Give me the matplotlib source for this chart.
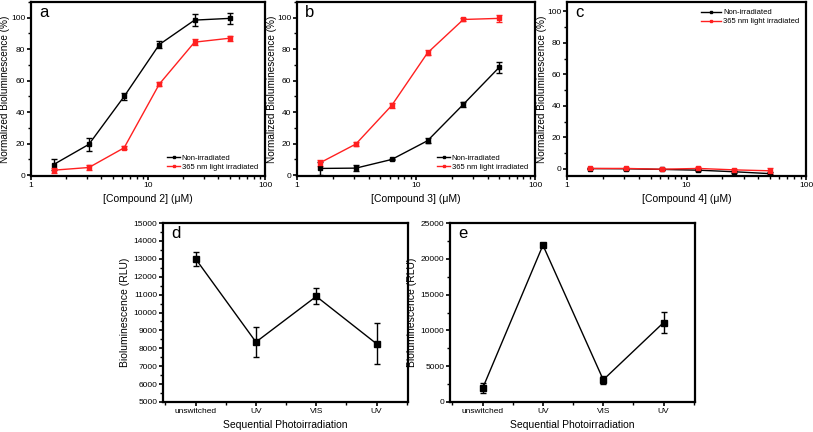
import matplotlib
matplotlib.use("Agg")
import matplotlib.pyplot as plt
from matplotlib.ticker import MultipleLocator, LogLocator, NullFormatter
from matplotlib.lines import Line2D
import numpy as np

plt.rcParams['font.family'] = ['Liberation Sans', 'DejaVu Sans']

conc = [1.5625, 3.125, 6.25, 12.5, 25, 50]

# panel a: compound 2
a_dark = [6.8, 19.6, 50.0, 83.0, 98.5, 99.6]
a_dark_err = [3.5, 4.0, 2.0, 2.0, 4.0, 3.5]
a_uv = [3.2, 4.9, 17.4, 57.9, 84.5, 87.0]
a_uv_err = [1.5, 1.5, 1.0, 1.5, 2.0, 1.5]

# panel b: compound 3
b_dark = [4.3, 4.5, 10.0, 21.9, 45.0, 68.5]
b_dark_err = [4.0, 2.0, 0.5, 1.5, 1.5, 3.5]
b_uv = [7.9, 19.8, 44.3, 77.7, 98.9, 99.6]
b_uv_err = [2.0, 1.5, 1.5, 1.5, 1.0, 2.0]

# panel c: compound 4
c_dark = [0.2, 0.1, -0.3, -0.8, -1.8, -3.0]
c_dark_err = [0.5, 0.5, 0.5, 0.5, 0.5, 0.8]
c_uv = [0.3, 0.3, -0.2, 0.3, -0.6, -1.2]
c_uv_err = [0.5, 0.5, 0.5, 0.8, 0.8, 2.0]

steps = ['unswitched', 'UV', 'VIS', 'UV']
d_val = [13000, 8350, 10900, 8250]
d_err = [400, 850, 450, 1150]
e_val = [1900, 21900, 3100, 11100]
e_err = [700, 300, 600, 1500]

RED = '#ff2020'

fig = plt.figure(figsize=(8.13, 4.32), dpi=100)

def style(ax):
    for s in ax.spines.values():
        s.set_linewidth(1.6)
    ax.tick_params(which='major', direction='out', length=3, width=1.2, labelsize=6, pad=1)
    ax.tick_params(which='minor', direction='out', length=2, width=1.0)
    ax.tick_params(top=False, right=False)

def conc_panel(rect, dark, dark_err, uv, uv_err, label, xlabel, ylim, legloc):
    ax = fig.add_axes(rect)
    ax.errorbar(conc, dark, yerr=dark_err, color='black', lw=1, marker='s', ms=2.5,
                capsize=2, elinewidth=1, capthick=1)
    ax.errorbar(conc, uv, yerr=uv_err, color=RED, lw=1, marker='s', ms=2.5,
                capsize=2, elinewidth=1, capthick=1)
    ax.set_xscale('log')
    ax.set_xlim(1, 100)
    ax.set_ylim(*ylim)
    ax.set_xticks([1, 10, 100])
    ax.set_xticklabels(['1', '10', '100'])
    ax.xaxis.set_minor_locator(LogLocator(base=10, subs=np.arange(2, 10)))
    ax.xaxis.set_minor_formatter(NullFormatter())
    ax.set_yticks([0, 20, 40, 60, 80, 100])
    ax.yaxis.set_minor_locator(MultipleLocator(10))
    style(ax)
    ax.set_xlabel(xlabel, fontsize=7.5, labelpad=4)
    ax.set_ylabel('Normalized Bioluminescence (%)', fontsize=7.2, labelpad=0.5)
    ax.text(0.035, 0.985, label, transform=ax.transAxes, fontsize=12, va='top', ha='left')
    handles = [Line2D([], [], color='black', lw=1, marker='s', ms=2),
               Line2D([], [], color=RED, lw=1, marker='s', ms=2)]
    names = ['Non-irradiated', '365 nm light irradiated']
    if legloc == 'lower right':
        ax.legend(handles, names, loc='lower right', bbox_to_anchor=(1.0, -0.01), frameon=False,
                  fontsize=5.5, handlelength=1.7, handletextpad=0.2, labelspacing=0.25)
    else:
        ax.legend(handles, names, loc='upper right', bbox_to_anchor=(1.0, 1.0), frameon=False,
                  fontsize=5.5, handlelength=2.6, handletextpad=0.2, labelspacing=0.25)
    return ax

conc_panel([31/813, 1 - 176/432, 234/813, 174/432], a_dark, a_dark_err, a_uv, a_uv_err,
           'a', '[Compound 2] (μM)', (-0.5, 110), 'lower right')
conc_panel([297/813, 1 - 176/432, 238/813, 174/432], b_dark, b_dark_err, b_uv, b_uv_err,
           'b', '[Compound 3] (μM)', (-0.5, 110), 'lower right')
conc_panel([567/813, 1 - 176/432, 239/813, 174/432], c_dark, c_dark_err, c_uv, c_uv_err,
           'c', '[Compound 4] (μM)', (-4.5, 106), 'upper right')

def step_panel(rect, vals, errs, label, ylim, major, minor):
    ax = fig.add_axes(rect)
    x = np.arange(len(steps))
    ax.errorbar(x, vals, yerr=errs, color='black', lw=1, marker='s', ms=4.5,
                capsize=2.5, elinewidth=1, capthick=1)
    ax.set_xlim(-0.54, 3.52)
    ax.set_ylim(*ylim)
    ax.set_xticks(x)
    ax.set_xticklabels(steps)
    ax.xaxis.set_minor_locator(MultipleLocator(0.5))
    ax.yaxis.set_major_locator(MultipleLocator(major))
    ax.yaxis.set_minor_locator(MultipleLocator(minor))
    style(ax)
    ax.set_xlabel('Sequential Photoirradiation', fontsize=7.5, labelpad=4)
    ax.set_ylabel('Bioluminescence (RLU)', fontsize=7.5, labelpad=3)
    ax.text(0.035, 0.985, label, transform=ax.transAxes, fontsize=12, va='top', ha='left')
    return ax

step_panel([163/813, 1 - 402/432, 245/813, 179/432], d_val, d_err, 'd', (5000, 15000), 1000, 500)
step_panel([450/813, 1 - 402/432, 245/813, 179/432], e_val, e_err, 'e', (0, 25000), 5000, 2500)

fig.savefig('out.png', dpi=100)
